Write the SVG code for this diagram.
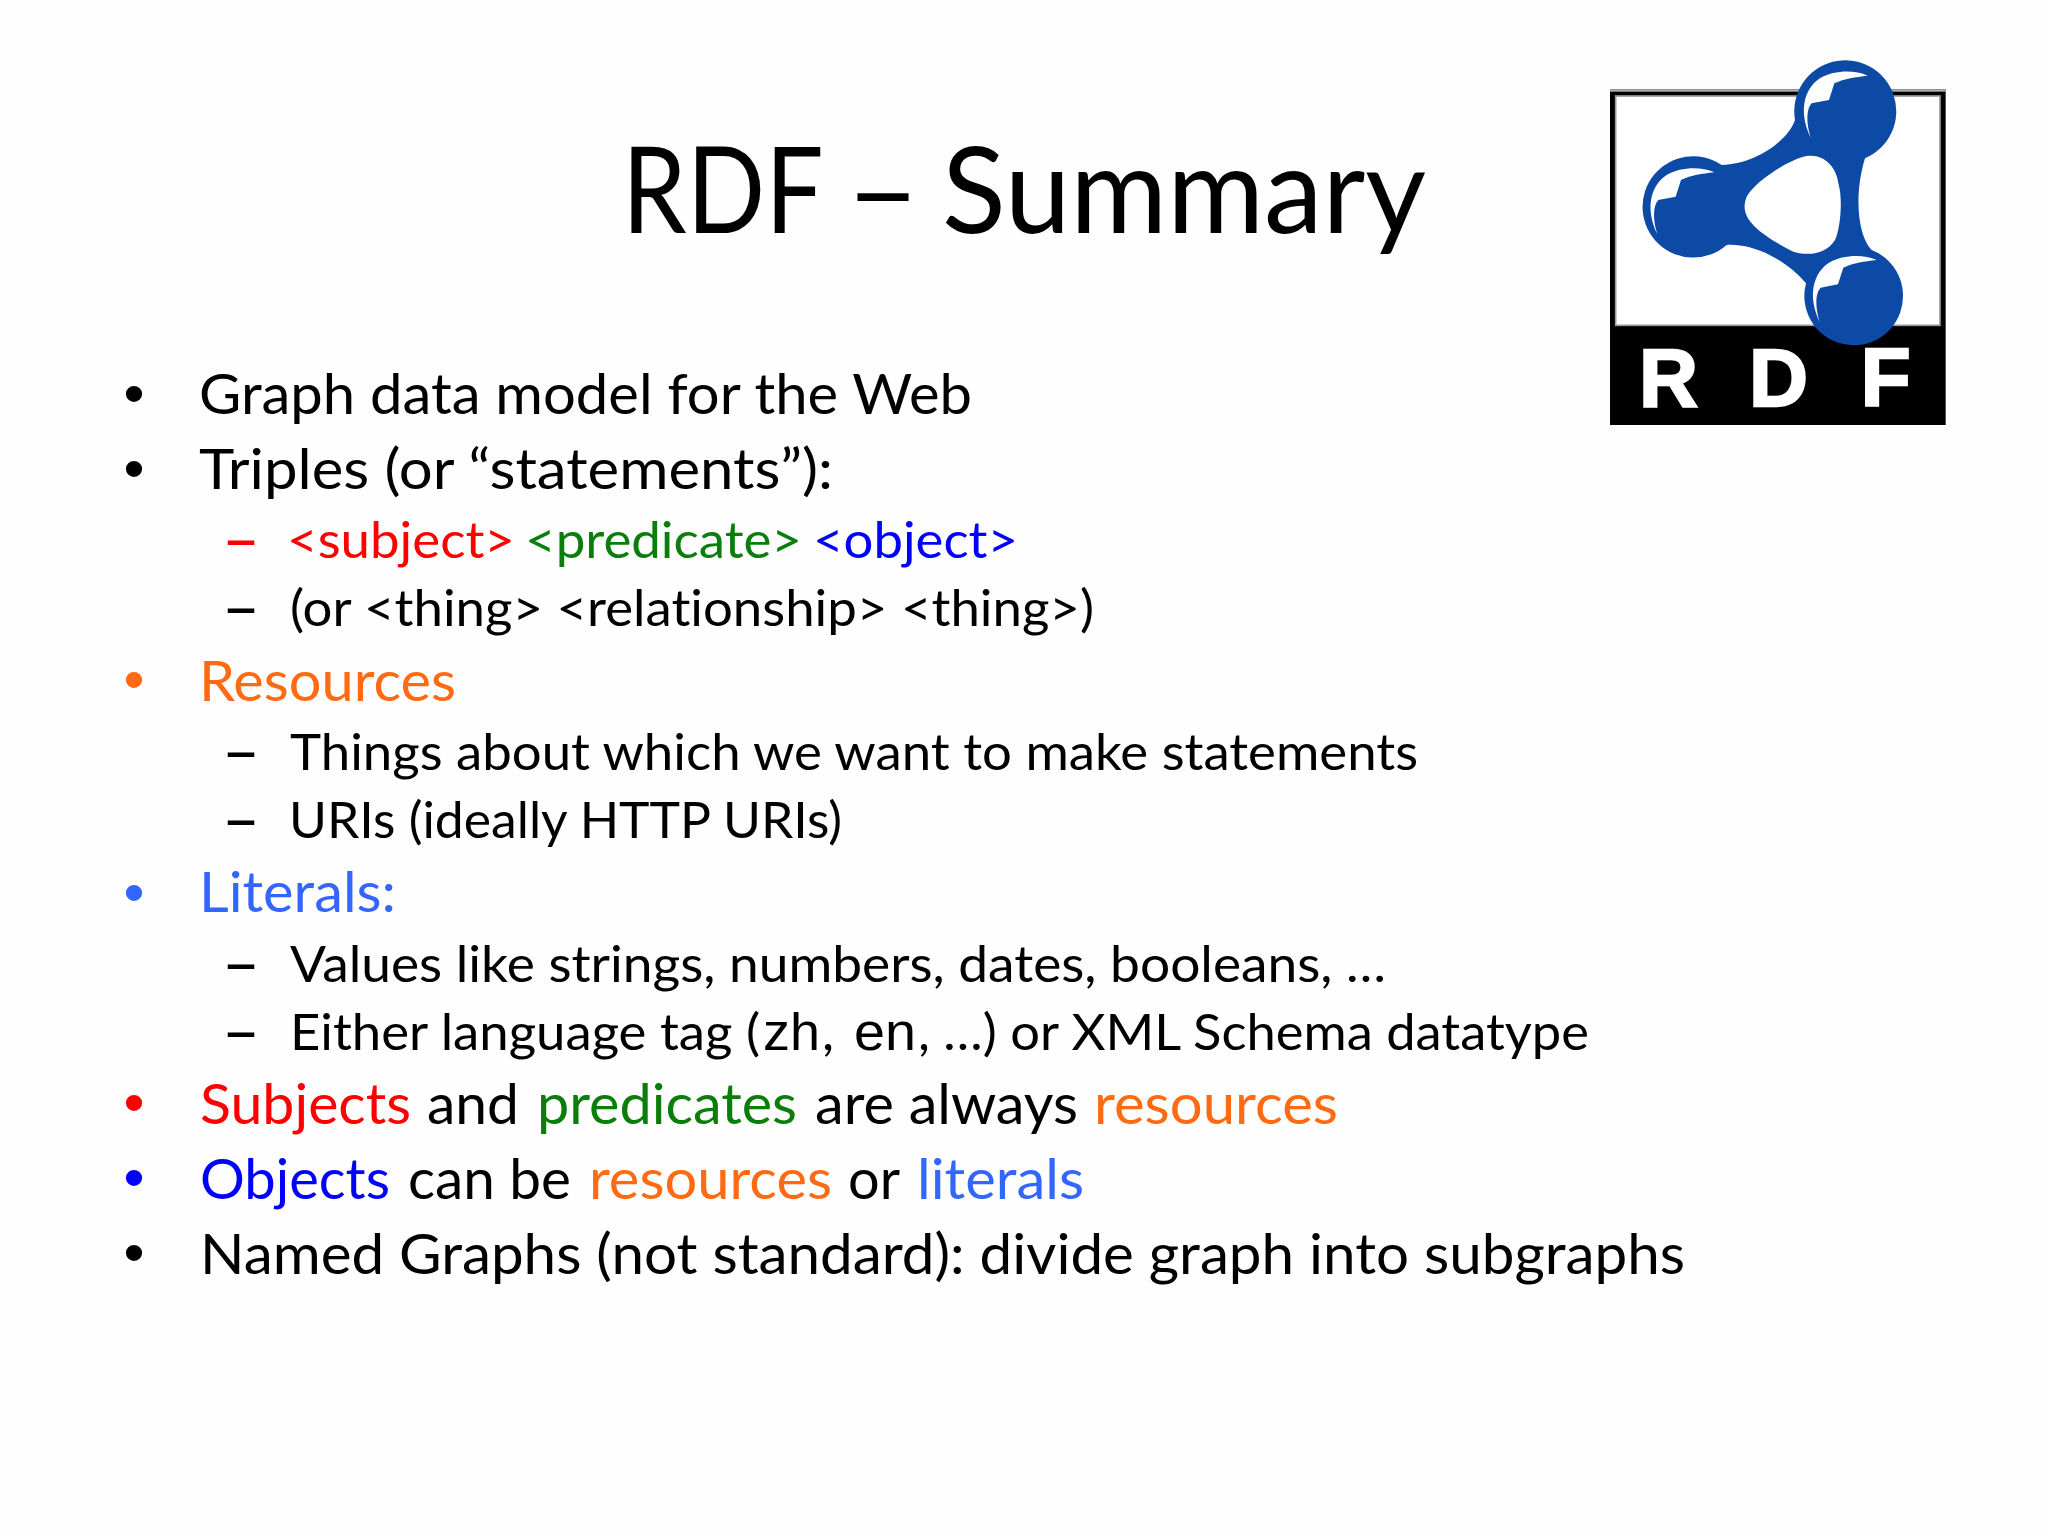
<svg xmlns="http://www.w3.org/2000/svg" width="2048" height="1536" viewBox="0 0 2048 1536">
<style>
text{font-family:"Lato","Carlito","Open Sans",sans-serif;fill:#000;font-variant-ligatures:none}
.title{font-size:120px}
.l1{font-size:57px}
.l2{font-size:51px}
.d{font-size:51px;font-weight:700}
.b{font-family:"Liberation Sans",sans-serif;font-size:60px;text-anchor:middle}
.r{fill:#ff0000}.g{fill:#0a7d0a}.u{fill:#0000ff}.o{fill:#ff6a13}.s{fill:#3366ff}
.ar{font-family:"Liberation Sans",sans-serif}
.logo{font-family:"Liberation Sans",sans-serif;font-size:245px;font-weight:700;fill:#fff;stroke:#fff;stroke-width:7}
</style>
<defs>
<path id="gloss" fill="#fff" d="M68,-108C30,-125 -30,-126 -75,-100C-115,-75 -145,-10 -103,78C-118,30 -115,-10 -100,-25L-48,-35L-32,-85C0,-100 30,-103 68,-108Z"/>
</defs>
<rect width="2048" height="1536" fill="#fefefe"/>
<g id="title">
<text class="title" transform="translate(622 233) scale(.86 1)">RDF</text>
<text class="title" x="846" y="233" textLength="74" lengthAdjust="spacingAndGlyphs">–</text>
<text class="title" x="942" y="233" textLength="484" lengthAdjust="spacingAndGlyphs">Summary</text>
</g>
<g id="logo" transform="translate(1580 40) scale(.33333)">
<rect x="90" y="148" width="1007" height="1007" fill="#000"/>
<rect x="90" y="148" width="1007" height="7" fill="#b0b0b0"/>
<rect x="107" y="168" width="973" height="688" fill="#fff" stroke="#999" stroke-width="5"/>
<path fill="#0d4aa6" fill-rule="evenodd" d="M645,240C625,300 530,372 425,375A152,152 0 1 0 440,615C510,610 610,650 678,730A148,148 0 1 0 875,630C835,590 820,470 855,355A153,153 0 1 0 645,240ZM500,470C520,430 620,360 680,348C730,340 770,380 775,430C790,480 780,570 765,600C740,640 690,650 640,635C590,610 540,580 515,550C490,520 490,495 500,470Z"/>
<use href="#gloss" transform="translate(795 215)"/>
<use href="#gloss" transform="translate(335 505)"/>
<use href="#gloss" transform="translate(822 768)"/>
<text class="logo" x="177" y="1098">R</text>
<text class="logo" x="507" y="1098">D</text>
<text class="logo" x="842" y="1098">F</text>
</g>
<g id="bullets">
<text class="b" x="134" y="414">•</text>
<text class="b" x="134" y="489">•</text>
<text class="b o" x="134" y="700">•</text>
<text class="b s" x="134" y="913">•</text>
<text class="b r" x="134" y="1123">•</text>
<text class="b u" x="134" y="1198">•</text>
<text class="b" x="134" y="1273">•</text>
</g>
<g id="lines">
<text class="l1" x="199" y="414" textLength="773" lengthAdjust="spacingAndGlyphs">Graph data model for the Web</text>
<text class="l1" x="199" y="489" textLength="634" lengthAdjust="spacingAndGlyphs">Triples (or “statements”):</text>
<text class="d r" x="222" y="558" textLength="38" lengthAdjust="spacingAndGlyphs">–</text>
<text class="l2 r" x="287" y="558" textLength="228" lengthAdjust="spacingAndGlyphs">&lt;subject&gt;</text>
<text class="l2 g" x="525" y="558" textLength="277" lengthAdjust="spacingAndGlyphs">&lt;predicate&gt;</text>
<text class="l2 u" x="813" y="558" textLength="205" lengthAdjust="spacingAndGlyphs">&lt;object&gt;</text>
<text class="d" x="222" y="626" textLength="38" lengthAdjust="spacingAndGlyphs">–</text>
<text class="l2" x="290" y="626" textLength="804" lengthAdjust="spacingAndGlyphs">(or &lt;thing&gt; &lt;relationship&gt; &lt;thing&gt;)</text>
<text class="l1 o" x="199" y="701" textLength="257" lengthAdjust="spacingAndGlyphs">Resources</text>
<text class="d" x="222" y="770" textLength="38" lengthAdjust="spacingAndGlyphs">–</text>
<text class="l2" x="290" y="770" textLength="1128" lengthAdjust="spacingAndGlyphs">Things about which we want to make statements</text>
<text class="d" x="222" y="838" textLength="38" lengthAdjust="spacingAndGlyphs">–</text>
<text class="l2" x="289" y="838" textLength="553" lengthAdjust="spacingAndGlyphs">URIs (ideally HTTP URIs)</text>
<text class="l1 s" x="199" y="912" textLength="197" lengthAdjust="spacingAndGlyphs">Literals:</text>
<text class="d" x="222" y="982" textLength="38" lengthAdjust="spacingAndGlyphs">–</text>
<text class="l2" x="290" y="982" textLength="1096" lengthAdjust="spacingAndGlyphs">Values like strings, numbers, dates, booleans, …</text>
<text class="d" x="222" y="1050" textLength="38" lengthAdjust="spacingAndGlyphs">–</text>
<text class="l2" x="290" y="1050" textLength="470" lengthAdjust="spacingAndGlyphs">Either language tag (</text>
<text class="l2 ar" x="763" y="1050" textLength="57" lengthAdjust="spacingAndGlyphs">zh</text>
<text class="l2" x="822" y="1050" textLength="12" lengthAdjust="spacingAndGlyphs">,</text>
<text class="l2 ar" x="854" y="1050" textLength="62" lengthAdjust="spacingAndGlyphs">en</text>
<text class="l2" x="918" y="1050" textLength="671" lengthAdjust="spacingAndGlyphs">, …) or XML Schema datatype</text>
<text class="l1 r" x="200" y="1124" textLength="211" lengthAdjust="spacingAndGlyphs">Subjects</text>
<text class="l1" x="427" y="1124" textLength="92" lengthAdjust="spacingAndGlyphs">and</text>
<text class="l1 g" x="537" y="1124" textLength="260" lengthAdjust="spacingAndGlyphs">predicates</text>
<text class="l1" x="815" y="1124" textLength="263" lengthAdjust="spacingAndGlyphs">are always</text>
<text class="l1 o" x="1094" y="1124" textLength="244" lengthAdjust="spacingAndGlyphs">resources</text>
<text class="l1 u" x="200" y="1199" textLength="190" lengthAdjust="spacingAndGlyphs">Objects</text>
<text class="l1" x="408" y="1199" textLength="163" lengthAdjust="spacingAndGlyphs">can be</text>
<text class="l1 o" x="589" y="1199" textLength="243" lengthAdjust="spacingAndGlyphs">resources</text>
<text class="l1" x="848" y="1199" textLength="52" lengthAdjust="spacingAndGlyphs">or</text>
<text class="l1 s" x="917" y="1199" textLength="167" lengthAdjust="spacingAndGlyphs">literals</text>
<text class="l1" x="200" y="1274" textLength="1485" lengthAdjust="spacingAndGlyphs">Named Graphs (not standard): divide graph into subgraphs</text>
</g>
</svg>
